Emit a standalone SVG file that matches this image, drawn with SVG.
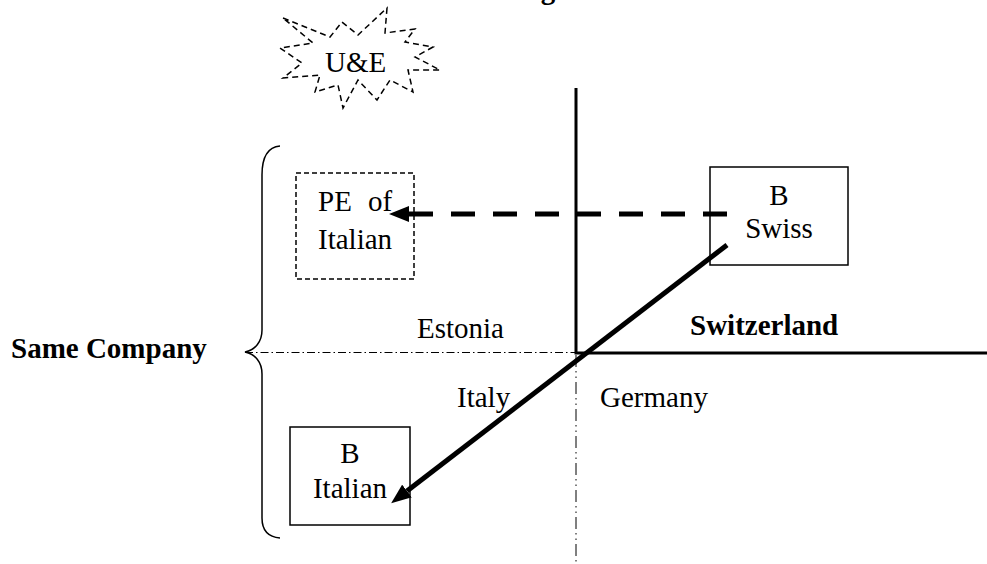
<svg xmlns="http://www.w3.org/2000/svg" width="987" height="564" viewBox="0 0 987 564">
<style>
text{font-family:"Liberation Serif","Times New Roman",serif;font-size:29px;fill:#000}
.b{font-weight:bold}
.m{text-anchor:middle}
.box{fill:none;stroke:#000;stroke-width:1.5}
.dbox{fill:none;stroke:#000;stroke-width:1.5;stroke-dasharray:5 3}
.axis{fill:none;stroke:#000;stroke-width:3}
.dd{fill:none;stroke:#000;stroke-width:1}
.arr{fill:none;stroke:#000;stroke-width:5;marker-end:url(#ah)}
</style>
<defs>
<marker id="ah" markerUnits="userSpaceOnUse" markerWidth="20" markerHeight="16" viewBox="0 0 20 16" refX="0" refY="8" orient="auto">
<path d="M0,0 L20,8 L0,16 z" fill="#000"/>
</marker>
</defs>
<rect width="987" height="564" fill="#fff"/>
<text class="b" x="515" y="-1">Figure</text>
<g id="ue">
<polygon points="283,18 330,37 342,22 358,35 387,8 385,33 415,29 405,42 433,47 415,57 440,70 408,70 413,92 390,80 377,100 358,80 343,108 338,85 315,92 320,75 283,78 302,63 280,48 313,43" fill="none" stroke="#000" stroke-width="1.5" stroke-dasharray="6 4"/>
<text x="325" y="72">U&amp;E</text>
</g>
<g id="brace">
<path d="M280,146 C268,147 262,156 262,175 L262,330 C262,342 255,350 245,352 C255,354 262,362 262,374 L262,518 C262,530 268,537 280,538" fill="none" stroke="#000" stroke-width="1.5"/>
<text class="b" x="11" y="358">Same Company</text>
</g>
<g id="pe">
<rect class="dbox" x="296" y="173" width="118" height="106"/>
<text x="318" y="211" word-spacing="9">PE of</text>
<text x="318" y="249">Italian</text>
</g>
<g id="bswiss">
<rect class="box" x="710" y="167" width="138" height="98"/>
<text class="m" x="779" y="205">B</text>
<text class="m" x="779" y="238">Swiss</text>
</g>
<g id="bitalian">
<rect class="box" x="290" y="427" width="120" height="98"/>
<text class="m" x="350" y="463">B</text>
<text class="m" x="350" y="498">Italian</text>
</g>
<g id="labels">
<text x="417" y="338">Estonia</text>
<text class="b" x="690" y="335">Switzerland</text>
<text x="457" y="407">Italy</text>
<text x="600" y="407">Germany</text>
</g>
<g id="connectors">
<path class="axis" d="M576,88 V353 H987"/>
<path class="dd" d="M245,352.5 H576" stroke-dasharray="8 3 1.5 3"/>
<path class="dd" d="M576,355 V564" stroke-dasharray="12 4 1.5 4 1.5 4"/>
<path class="arr" d="M727,214 H409" stroke-dasharray="24 18"/>
<path class="arr" d="M727,245 L407,491"/>
</g>
</svg>
